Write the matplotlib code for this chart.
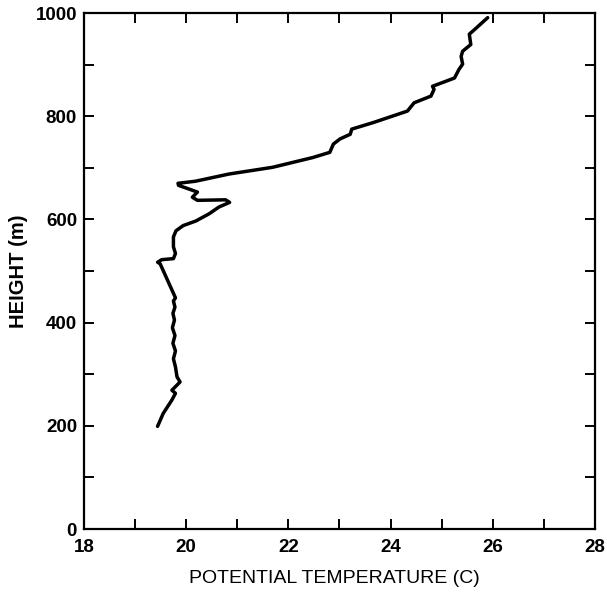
import matplotlib
matplotlib.use("Agg")
from matplotlib import pyplot as plt
from matplotlib.ticker import MultipleLocator

# perfil de temperatura potencial
temp = [19.44, 19.55, 19.72, 19.79, 19.72, 19.88, 19.82, 19.79, 19.75, 19.79,
        19.74, 19.78, 19.73, 19.77, 19.74, 19.78, 19.75, 19.79, 19.49, 19.44,
        19.52, 19.75, 19.79, 19.75, 19.75, 19.80,
        19.94, 20.19, 20.45, 20.64, 20.85, 20.77, 20.22, 20.12, 20.22, 20.05,
        19.85, 19.84, 20.18, 20.84, 21.69, 22.48, 22.81, 22.88, 23.01, 23.21,
        23.24, 23.67, 24.33, 24.46, 24.79, 24.85, 24.82, 25.25, 25.34, 25.41,
        25.38, 25.41, 25.57, 25.54, 25.61, 25.90]
altura = [199, 224, 250, 263, 269, 285, 295, 314, 330, 345,
          360, 375, 390, 405, 418, 430, 442, 448, 514, 517,
          522, 524, 534, 547, 566, 578,
          588, 597, 611, 624, 633, 638, 637, 643, 653, 659,
          666, 670, 674, 688, 701, 720, 730, 746, 756, 765,
          775, 788, 810, 826, 839, 852, 858, 874, 891, 901,
          916, 926, 939, 959, 965, 991]

plt.rcParams["font.family"] = ["Liberation Sans", "DejaVu Sans"]

fig = plt.figure(figsize=(6.07, 5.92), dpi=100)
ax = fig.add_axes([0.1384, 0.1064, 0.8418, 0.8716])

ax.plot(temp, altura, "-", color="black", lw=2.5, solid_capstyle="round",
        solid_joinstyle="round")

ax.set_xlim(18, 28)
ax.set_ylim(0, 1000)
ax.xaxis.set_major_locator(MultipleLocator(2))
ax.xaxis.set_minor_locator(MultipleLocator(1))
ax.yaxis.set_major_locator(MultipleLocator(200))
ax.yaxis.set_minor_locator(MultipleLocator(100))
ax.tick_params(which="both", direction="in", top=True, right=True,
               length=7, width=1.4)
ax.tick_params(axis="x", pad=7)
ax.tick_params(axis="y", pad=5)
for lab in ax.get_xticklabels() + ax.get_yticklabels():
    lab.set_fontweight("bold")
    lab.set_fontsize(13.5)
for s in ax.spines.values():
    s.set_linewidth(1.6)

ax.set_xlabel("POTENTIAL TEMPERATURE (C)", fontsize=14)
ax.xaxis.set_label_coords(0.49, -0.08)
ax.set_ylabel("HEIGHT (m)", fontsize=14.5, fontweight="bold")
ax.yaxis.set_label_coords(-0.11, 0.5)

plt.savefig("out.png", dpi=100)
